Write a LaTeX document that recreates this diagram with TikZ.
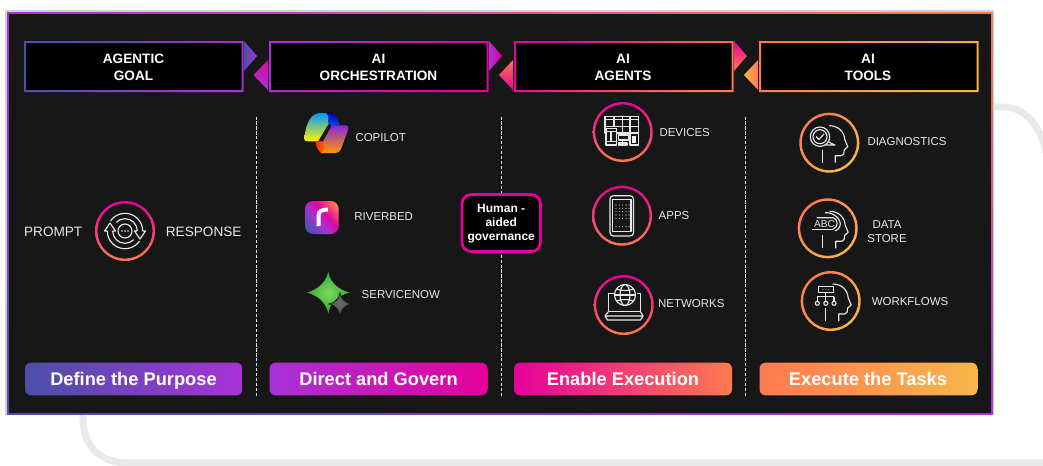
\documentclass[tikz,border=0pt]{standalone}
\usepackage{fontspec}
\setmainfont{Liberation Sans}
\definecolor{cindigo}{HTML}{4A50A8}
\definecolor{cpurple}{HTML}{A832D6}
\definecolor{cpink}{HTML}{E6009A}
\definecolor{corange}{HTML}{FF7A50}
\definecolor{cyellow}{HTML}{F9B64B}
\definecolor{cpanel}{HTML}{171717}
\definecolor{cback}{HTML}{E9E9E9}
\definecolor{cicon}{HTML}{E8E8E8}
\definecolor{cstarlight}{HTML}{7FD85A}
\definecolor{cstardark}{HTML}{2AA838}
\pgfdeclarehorizontalshading{riverbedfill}{100bp}{color(0bp)=(cindigo); color(22bp)=(cindigo); color(42bp)=(cpurple); color(58bp)=(cpink!85!cpurple); color(78bp)=(corange); color(100bp)=(corange)}

\tikzset{every picture/.style={line width=0.75pt}}
\tikzset{
  iconline/.style={draw=cicon, line width=0.85pt, line join=round},
  gridline/.style={draw=cicon, line width=0.75pt, dash pattern=on 2.4pt off 1.3pt},
  agentring/.style={even odd rule, top color=cpink, bottom color=corange},
  toolring/.style={even odd rule, left color=corange, right color=cyellow, shading angle=40},
  goalband/.style={left color=cindigo, right color=cpurple},
  orchband/.style={left color=cpurple, right color=cpink},
  agentband/.style={left color=cpink, right color=corange},
  toolband/.style={left color=corange, right color=cyellow},
  headlabel/.style={text=white, font=\fontsize{10.2}{12.6}\selectfont\bfseries, align=center, inner sep=0.75pt},
  footlabel/.style={text=white, anchor=base, font=\fontsize{13.7}{16}\selectfont\bfseries, inner sep=0.75pt},
  itemlabel/.style={text=cicon, font=\fontsize{8.6}{10}\selectfont, align=center, inner sep=0.75pt},
  biglabel/.style={text=cicon, font=\fontsize{10.2}{12}\selectfont, inner sep=0.75pt},
  headicon/.pic={
    \draw [iconline] (-7,7) -- (-7,20) ;
    \draw [iconline] (6,20) -- (6,13) -- (12,13) .. controls (14.5,13) and (15,10) .. (15,7) -- (18.5,4) -- (15.5,-3) .. controls (15,-11) and (9,-17) .. (0,-17) ;
  },
}

\begin{document}
\begin{tikzpicture}[x=0.75pt,y=0.75pt,yscale=-1,xscale=1]
    \useasboundingbox (0,0) rectangle (1043,465);

    %Shape: Back Curves
    \draw [cback, line width=5.2pt] (83,410) -- (83,418) .. controls (83,446) and (100,463) .. (128,463) -- (1043,463) ;
    \draw [cback, line width=5.2pt] (990,107) -- (1003,107) .. controls (1025,107) and (1040,125) .. (1046,152) ;

    %Shape: Panel
    \fill [color=black!18] (5,10) rectangle (993.5,415) ;
    \shade [left color=cpurple, middle color=cpink, right color=corange] (7,12) rectangle (992,14) ;
    \shade [left color=cindigo, middle color=cpurple!80!cindigo, right color=cpurple] (7,412) rectangle (992,414) ;
    \shade [top color=cpurple, bottom color=cindigo] (7,12) rectangle (9,414) ;
    \shade [top color=corange, middle color=cpink, bottom color=cpurple] (990.5,12) rectangle (992.5,414) ;
    \fill [cpanel] (8.5,13.5) rectangle (990.5,412.5) ;

    %Shape: Header Boxes
    \fill [black] (24,41.5) rectangle (243.5,91.5) ;
    \fill [black] (269,41.5) rectangle (488.5,91.5) ;
    \fill [black] (514,41.5) rectangle (733.5,91.5) ;
    \fill [black] (759,41.5) rectangle (978.5,91.5) ;
    \shade [even odd rule, left color=cindigo, right color=cpurple, shading angle=40] (24,41) rectangle (243.5,92) (26,43) rectangle (241.5,90) ;
    \shade [even odd rule, left color=cpurple, right color=cpink, shading angle=40] (269,41) rectangle (488.5,92) (271,43) rectangle (486.5,90) ;
    \shade [even odd rule, left color=cpink, right color=corange, shading angle=40] (514,41) rectangle (733.5,92) (516,43) rectangle (731.5,90) ;
    \shade [even odd rule, left color=corange, right color=cyellow, shading angle=40] (759,41) rectangle (978.5,92) (761,43) rectangle (976.5,90) ;

    %Shape: Triangles
    \shade [left color=cindigo, right color=cpurple] (244,41) -- (257,56) -- (244,71) -- cycle ;
    \shade [top color=cpink!80!cpurple, bottom color=cpurple] (268,60) -- (253.5,75) -- (268,90) -- cycle ;
    \shade [left color=cpurple, right color=cpink] (489,41) -- (502,56) -- (489,71) -- cycle ;
    \shade [top color=corange, bottom color=cpink] (513,60) -- (499,75) -- (513,90) -- cycle ;
    \shade [top color=cpink, bottom color=corange] (734,41) -- (747,56) -- (734,71) -- cycle ;
    \shade [left color=cyellow, right color=corange] (758,60) -- (744,75) -- (758,90) -- cycle ;

    %Straight Lines
    \draw [gridline] (256.5,116.5) -- (256.5,397) ;
    \draw [gridline] (501,116.5) -- (501,397) ;
    \draw [gridline] (745.7,116.5) -- (745.7,397) ;

    %Shape: Footer Bands
    \shade [goalband, rounded corners=4.5] (25,362.7) rectangle (242.5,395.3) ;
    \shade [orchband, rounded corners=4.5] (269.5,362.7) rectangle (487.5,395.3) ;
    \shade [agentband, rounded corners=4.5] (514,362.7) rectangle (732,395.3) ;
    \shade [toolband, rounded corners=4.5] (759.5,362.7) rectangle (977.5,395.3) ;

    %Shape: Governance Box
    \draw [cpink, fill=black, line width=2.1pt, rounded corners=7] (462,194.5) rectangle (540.5,251.5) ;

    %Shape: Prompt Icon
    \shade [agentring] (125,231) circle (30) circle (27.6) ;
    \draw [iconline] (125,231) circle (7) ;
    \fill [cicon] (122,231) circle (0.8) (125,231) circle (0.8) (128,231) circle (0.8) ;
    \draw [iconline] (142.7,231) arc (0:-145:17.7) ;
    \draw [iconline] (137.3,231) arc (0:-135:12.3) ;
    \draw [iconline] (107.3,231) arc (180:35:17.7) ;
    \draw [iconline] (112.7,231) arc (180:45:12.3) ;
    \draw [iconline] (112.7,231) -- (115.5,231) -- (110,223) -- (104.5,231) -- (107.3,231) ;
    \draw [iconline] (137.3,231) -- (134.5,231) -- (140,239) -- (145.5,231) -- (142.7,231) ;

    %Shape: Copilot Logo
    \shade [top color=cyan!60!blue, middle color=green!60!black!90!yellow, bottom color=yellow!90!orange] (314.7,114.5) .. controls (309,117.5) and (305.5,127) .. (304.5,137) .. controls (304,141) and (305,141.3) .. (308,141.3) -- (318,141.3) -- (328,124.7) -- (331,119) .. controls (329.5,114) and (328,113) .. (326,113) -- (319,113) .. controls (317,113) and (316,113.5) .. (314.7,114.5) -- cycle ;
    \shade [top color=blue!65!black, bottom color=blue!70!cyan] (326,113) -- (332,113) .. controls (335,113) and (336,116) .. (339.7,124.7) -- (331.5,126) -- (328,122) .. controls (329,117) and (328,114) .. (326,113) -- cycle ;
    \shade [left color=red!70!orange, right color=orange] (315.3,141.3) -- (323,141.3) -- (327,151.3) -- (321.3,153) .. controls (318,151) and (316,146) .. (315.3,141.3) -- cycle ;
    \shade [top color=cpurple!80!blue, middle color=magenta!60!orange, bottom color=orange!80!yellow] (332,125.3) -- (345,125.3) .. controls (348,125.3) and (349,127) .. (348,130) -- (341,149) .. controls (340,152) and (338,153) .. (335,153) -- (321,153) .. controls (324,152) and (326,149) .. (323,141.3) -- cycle ;

    %Shape: Riverbed Logo
    \shade [shading=riverbedfill, shading angle=40, rounded corners=6] (305,201) rectangle (338.7,234) ;
    \draw [white, line width=3pt] (318.5,226) -- (318.5,216) .. controls (318.5,211) and (322,209.5) .. (328,209.5) ;

    %Shape: ServiceNow Star
    \shade [inner color=cstarlight, outer color=cstardark] (328.3,271.5) .. controls (330,282) and (337,289) .. (349.5,292.5) .. controls (337,296) and (330,303) .. (328.3,313.5) .. controls (326,303) and (319,296) .. (307,292.5) .. controls (319,289) and (326,282) .. (328.3,271.5) -- cycle ;
    \shade [inner color=black!58, outer color=black!70, draw=cpanel, line width=0.4pt] (340,292.5) .. controls (341,299) and (345,303) .. (351.5,304) .. controls (345,305) and (341,309) .. (340,315.5) .. controls (339,309) and (335,305) .. (328.5,304) .. controls (335,303) and (339,299) .. (340,292.5) -- cycle ;

    %Shape: Devices Icon
    \shade [agentring] (622.7,132) circle (30) circle (27.6) ;
    \draw [iconline] (605,116.7) rectangle (638.3,133) ;
    \draw [iconline] (605,119.3) -- (638.3,119.3) (605,126.7) -- (638.3,126.7) (614,116.7) -- (614,127) (622.3,116.7) -- (622.3,133) (630,116.7) -- (630,133) ;
    \draw [iconline, fill=cpanel] (606,128.3) rectangle (616.7,145) ;
    \draw [iconline] (606,131.7) -- (616.7,131.7) (606,141.7) -- (616.7,141.7) (611,131.7) -- (611,141.7) ;
    \draw [iconline, fill=cpanel] (618.3,135) rectangle (628.3,140) ;
    \draw [iconline] (622.7,140) -- (622.7,143) ;
    \draw [iconline] (618.3,143) rectangle (627,145) ;
    \draw [iconline, fill=cpanel] (630,133.3) rectangle (638.3,145) ;
    \fill [cicon!70] (632,136) rectangle (636.3,143) ;

    %Shape: Apps Icon
    \shade [agentring] (622,215.7) circle (30) circle (27.6) ;
    \draw [iconline, rounded corners=2.5] (610,195.7) rectangle (633.5,236) ;
    \draw [iconline] (612.5,199.5) rectangle (631,231.5) ;
    \foreach \dotx in {616,619.3,622.6,626,629}
      \foreach \doty in {205,208.3,211.6,215,218.3,226.7}
        \fill [cicon] (\dotx,\doty) circle (0.55) ;

    %Shape: Networks Icon
    \shade [agentring] (623.7,305) circle (30) circle (27.6) ;
    \draw [iconline] (625,295) circle (10.5) ;
    \draw [iconline] (625,295) ellipse (5 and 10.5) ;
    \draw [iconline] (614.5,295) -- (635.5,295) ;
    \draw [iconline] (616.5,289) .. controls (621,291) and (629,291) .. (633.5,289) ;
    \draw [iconline] (616.5,301) .. controls (621,299) and (629,299) .. (633.5,301) ;
    \draw [iconline] (613.5,293.3) -- (608.3,293.3) -- (608.3,311.7) -- (640.5,311.7) -- (640.5,293.3) -- (636.5,293.3) ;
    \draw [iconline] (605,316) -- (643,316) -- (640.5,320) -- (607.5,320) -- cycle ;
    \draw [iconline] (605,316) -- (608.3,311.7) (643,316) -- (640.5,311.7) ;

    %Shape: Diagnostics Icon
    \shade [toolring] (829.3,142.7) circle (30) circle (27.6) ;
    \pic [transform shape] at (829.3,142.7) {headicon} ;
    \draw [iconline, fill=cpanel] (820,136.7) circle (9.7) ;
    \draw [iconline] (820,136.7) circle (7) ;
    \draw [iconline] (816,136.5) -- (819,139.5) -- (824,134) ;
    \draw [iconline] (828.5,142) -- (835,145) -- (825.5,145) ;

    %Shape: Data Store Icon
    \shade [toolring] (827.7,228.3) circle (30) circle (27.6) ;
    \pic [transform shape] at (829.7,228.3) {headicon} ;
    \draw [iconline] (816.7,217.7) -- (833.3,217.7) .. controls (838,219) and (839,227) .. (833,229.3) ;
    \draw [iconline] (812,229.3) -- (833,229.3) ;
    \draw [iconline] (825,212.7) .. controls (833,212) and (842,219) .. (840,226) .. controls (839.5,228) and (838,230) .. (835,231) ;

    %Shape: Workflows Icon
    \shade [toolring] (830.7,301) circle (30) circle (27.6) ;
    \pic [transform shape] at (832.7,301) {headicon} ;
    \draw [iconline, fill=cpanel] (818.3,286.7) rectangle (833.3,292.7) ;
    \fill [cicon] (823,289.7) circle (0.5) (825.8,289.7) circle (0.5) (828.6,289.7) circle (0.5) ;
    \draw [iconline] (825.8,292.7) -- (825.8,301.3) (817.3,296.7) -- (834,296.7) (817.3,296.7) -- (817.3,301.3) (834,296.7) -- (834,301.3) ;
    \draw [iconline] (817.3,303.3) circle (2) (825.8,303.3) circle (2) (834,303.3) circle (2) ;

    % Text Node
    \draw (133.5,67) node (goalhead) [headlabel] {AGENTIC\\GOAL};
    % Text Node
    \draw (378.5,67) node (orchhead) [headlabel] {AI\\ORCHESTRATION};
    % Text Node
    \draw (623,67) node (agenthead) [headlabel] {AI\\AGENTS};
    % Text Node
    \draw (868,67) node (toolhead) [headlabel] {AI\\TOOLS};
    % Text Node
    \draw (133.5,385.5) node (goalfoot) [footlabel] {Define the Purpose};
    % Text Node
    \draw (378.5,385.5) node (orchfoot) [footlabel] {Direct and Govern};
    % Text Node
    \draw (623,385.5) node (agentfoot) [footlabel] {Enable Execution};
    % Text Node
    \draw (868,385.5) node (toolfoot) [footlabel] {Execute the Tasks};
    % Text Node
    \draw (53.2,231.5) node (promptlabel) [biglabel] {PROMPT};
    % Text Node
    \draw (203.7,231.5) node (responselabel) [biglabel] {RESPONSE};
    % Text Node
    \draw (380.7,137.7) node (copilotlabel) [itemlabel] {COPILOT};
    % Text Node
    \draw (383.7,216.7) node (riverbedlabel) [itemlabel] {RIVERBED};
    % Text Node
    \draw (400.8,295) node (servicelabel) [itemlabel] {SERVICENOW};
    % Text Node
    \draw (501.2,223.5) node (humanlabel) [text=white, font=\fontsize{9}{10.5}\selectfont\bfseries, align=center, inner sep=0.75pt] {Human -\\aided\\governance};
    % Text Node
    \draw (684.7,133) node (deviceslabel) [itemlabel] {DEVICES};
    % Text Node
    \draw (674,215.7) node (appslabel) [itemlabel] {APPS};
    % Text Node
    \draw (691.3,304) node (networkslabel) [itemlabel] {NETWORKS};
    % Text Node
    \draw (907,141.7) node (diagnosticslabel) [itemlabel] {DIAGNOSTICS};
    % Text Node
    \draw (887,231.5) node (datalabel) [itemlabel] {DATA\\STORE};
    % Text Node
    \draw (910,301.7) node (workflowslabel) [itemlabel] {WORKFLOWS};
    % Text Node
    \draw (824.5,224) node (abclabel) [text=cicon, font=\fontsize{7.6}{9}\selectfont, inner sep=0pt] {ABC};

\end{tikzpicture}
\end{document}
